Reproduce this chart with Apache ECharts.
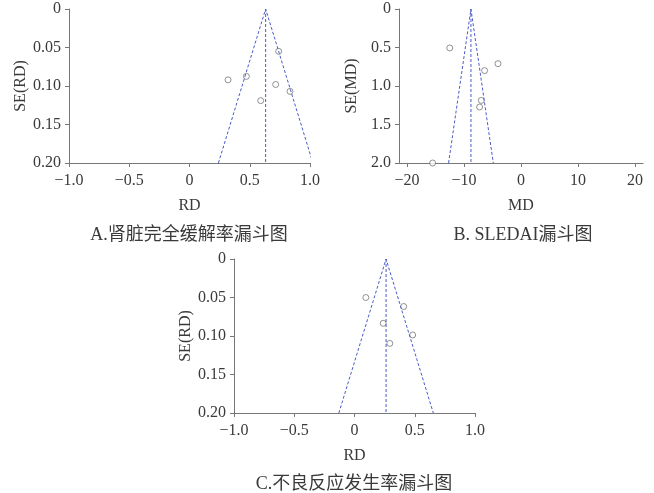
<!DOCTYPE html>
<html>
<head>
<meta charset="utf-8">
<script src="https://cdn.jsdelivr.net/npm/echarts@6/dist/echarts.min.js"></script>
<style>
  html, body { margin: 0; padding: 0; background: #fff; }
  #chart { width: 654px; height: 493px; }
</style>
</head>
<body>
<div id="chart"></div>
<script>
// Study points [effect, SE]
const pointsA = [[0.32, 0.092], [0.472, 0.0875], [0.740, 0.055], [0.715, 0.098], [0.834, 0.107], [0.591, 0.119]];
const pointsB = [[-12.5, 0.506], [-4.04, 0.71], [-6.39, 0.80], [-6.96, 1.187], [-7.26, 1.273], [-15.5, 2.0]];
const pointsC = [[0.094, 0.05], [0.408, 0.0617], [0.238, 0.0835], [0.483, 0.0987], [0.293, 0.1096]];

// Funnel outlines: left bottom, apex, right bottom
const funnelA = [[0.240, 0.20], [0.632, 0], [1.024, 0.20]];
const funnelB = [[-12.7, 2.0], [-8.78, 0], [-4.86, 2.0]];
const funnelC = [[-0.13, 0.20], [0.262, 0], [0.654, 0.20]];
const centerA = [[0.632, 0], [0.632, 0.20]];
const centerB = [[-8.78, 0], [-8.78, 2.0]];
const centerC = [[0.262, 0], [0.262, 0.20]];

const ticksRD = [-1.0, -0.5, 0, 0.5, 1.0];
const ticksMD = [-20, -10, 0, 10, 20];

const captions = ['A.肾脏完全缓解率漏斗图', 'B. SLEDAI漏斗图', 'C.不良反应发生率漏斗图'];

const serif = '"Liberation Serif", "DejaVu Serif", "Noto Sans CJK SC", serif';
const axisColor = '#777';
const textColor = '#3a3a3a';
const funnelColor = '#4a5bc8';

function fmtNum(v, d) {
    if (v === 0) return '0';
    const s = Math.abs(v).toFixed(d);
    return v < 0 ? '\u2212' + s : s;
}

const chart = echarts.init(document.getElementById('chart'));

const grids = [
    { left: 69, top: 9, width: 241, height: 154 },
    { left: 399, top: 9, width: 244, height: 154 },
    { left: 234, top: 259, width: 241, height: 154 }
];

const xAxes = [
    { min: -1, max: 1, ticks: ticksRD, dec: 1, name: 'RD' },
    { min: -21.4, max: 21.4, ticks: ticksMD, dec: 0, name: 'MD' },
    { min: -1, max: 1, ticks: ticksRD, dec: 1, name: 'RD' }
];

const yAxes = [
    { max: 0.2, interval: 0.05, dec: 2, name: 'SE(RD)' },
    { max: 2.0, interval: 0.5, dec: 1, name: 'SE(MD)' },
    { max: 0.2, interval: 0.05, dec: 2, name: 'SE(RD)' }
];

const panels = [
    { pts: pointsA, funnel: funnelA, center: centerA },
    { pts: pointsB, funnel: funnelB, center: centerB },
    { pts: pointsC, funnel: funnelC, center: centerC }
];

const series = [];
panels.forEach((p, i) => {
    const dash = { color: funnelColor, width: 1, type: [3, 2] };
    series.push({
        type: 'line', xAxisIndex: i, yAxisIndex: i, data: p.funnel,
        symbol: 'none', lineStyle: dash, clip: true, silent: true
    });
    series.push({
        type: 'line', xAxisIndex: i, yAxisIndex: i, data: p.center,
        symbol: 'none', lineStyle: dash, clip: true, silent: true
    });
    series.push({
        type: 'scatter', xAxisIndex: i, yAxisIndex: i, data: p.pts,
        symbol: 'circle', symbolSize: 6,
        itemStyle: { color: '#fff', borderColor: '#555', borderWidth: 0.8 }
    });
});

const labelFont = { fontFamily: serif, fontSize: 16, color: textColor };

const option = {
    backgroundColor: '#fff',
    animation: false,
    textStyle: { fontFamily: serif },
    title: [
        { text: captions[0], left: 184, top: 221, textAlign: 'center' },
        { text: captions[1], left: 518, top: 221, textAlign: 'center' },
        { text: captions[2], left: 349, top: 470, textAlign: 'center' }
    ].map(t => Object.assign(t, {
        textStyle: { fontFamily: serif, fontSize: 18, fontWeight: 'normal', color: textColor }
    })),
    grid: grids,
    xAxis: xAxes.map((a, i) => ({
        type: 'value', gridIndex: i, min: a.min, max: a.max, position: 'bottom',
        name: a.name, nameLocation: 'middle', nameGap: 35,
        nameTextStyle: labelFont,
        splitLine: { show: false },
        axisLine: { onZero: false, lineStyle: { color: axisColor, width: 1 } },
        axisTick: { show: true, length: 4, inside: false, customValues: a.ticks, lineStyle: { color: axisColor } },
        axisLabel: Object.assign({
            customValues: a.ticks, margin: 10, formatter: v => fmtNum(v, a.dec)
        }, labelFont)
    })),
    yAxis: yAxes.map((a, i) => ({
        type: 'value', gridIndex: i, inverse: true, min: 0, max: a.max, interval: a.interval,
        position: 'left',
        name: a.name, nameLocation: 'middle', nameGap: 39, nameRotate: 90,
        nameTextStyle: labelFont,
        splitLine: { show: false },
        axisLine: { show: true, onZero: false, lineStyle: { color: axisColor, width: 1 } },
        axisTick: { show: true, length: 4, lineStyle: { color: axisColor } },
        axisLabel: Object.assign({
            margin: 8, formatter: v => fmtNum(v, a.dec)
        }, labelFont)
    })),
    series: series
};

chart.setOption(option);
</script>
</body>
</html>
